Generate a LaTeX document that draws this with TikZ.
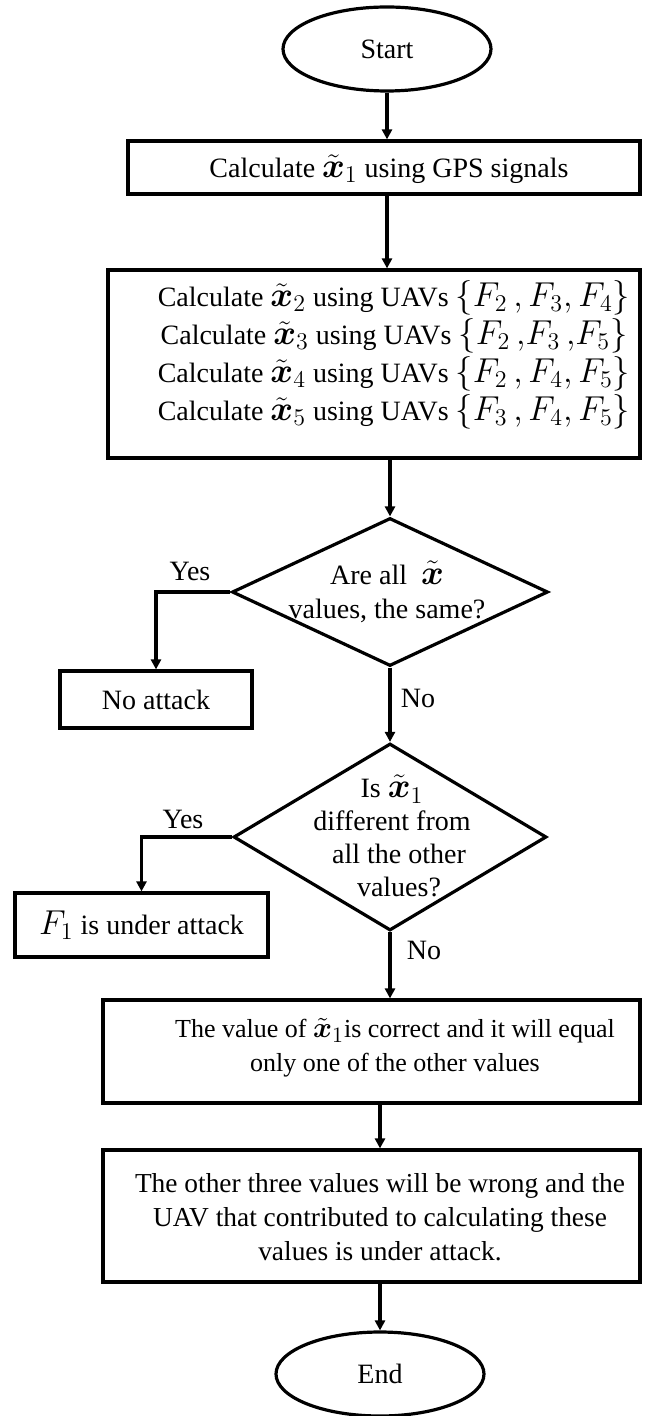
\documentclass[tikz,border=0pt]{standalone}
\usepackage{amsmath}
\usepackage{fontspec}
\setmainfont{Liberation Serif}
\DeclareMathSizes{14}{16.5}{12}{10}
\DeclareMathSizes{13}{15}{11}{9}
\usetikzlibrary{shapes.geometric,arrows.meta}
\newcommand{\xt}{\tilde{\boldsymbol{x}}}
\begin{document}
\begin{tikzpicture}[x=0.5pt,y=-0.5pt,
  every node/.style={font=\fontsize{14}{17}\selectfont},
  arrow/.style={line width=1.6pt,-{Triangle[length=5pt,width=5pt]}},
  terminal/.style={ellipse,draw,line width=1.6pt,inner sep=0pt,minimum width=104pt,minimum height=42pt},
  procbox/.style={rectangle,draw,line width=1.6pt,inner sep=0pt},
  decision/.style={diamond,draw,line width=1.6pt,inner sep=0pt},
  txt/.style={align=center,inner sep=0pt}]
\useasboundingbox (0,0) rectangle (656,1416);

% terminals
\node[terminal] (start) at (387,49) {Start};
\node[terminal] (end) at (380,1374) {End};

% process boxes
\node[procbox,minimum width=256pt,minimum height=26.5pt] (b1) at (384,167.5) {};
\node[txt] (b1t) at (389,169) {Calculate $\xt_1$ using GPS signals};

\node[procbox,minimum width=266pt,minimum height=94pt] (b2) at (374,364) {};
\node[txt,font=\fontsize{14}{19}\selectfont] (b2t) at (394,355) {%
  Calculate $\xt_2$ using UAVs $\{F_2\,, F_3, F_4\}$\\
  Calculate $\xt_3$ using UAVs\ $\{F_2\,,\!F_3\,,\!F_5\}$\\
  Calculate $\xt_4$ using UAVs\ $\{F_2\,, F_4, F_5\}$\\
  Calculate $\xt_5$ using UAVs\ $\{F_3\,, F_4, F_5\}$};

% first decision
\node[decision,minimum width=158pt,minimum height=74pt] (d1) at (390,592) {};
\node[txt] (d1t) at (387,592) {Are all\ \ $\xt$\\values, the same?};

\node[procbox,minimum width=96pt,minimum height=28.5pt] (na) at (156,699.5) {};
\node[txt] (nat) at (156,699.5) {No attack};

% second decision
\node[decision,minimum width=156.5pt,minimum height=93.5pt] (d2) at (390,837) {};
\node[txt,font=\fontsize{14}{16.5}\selectfont] (d2t) at (392,836) {Is $\xt_1$\\different from\\\ \ all the other\\\ \ values?};

\node[procbox,minimum width=126.5pt,minimum height=32pt] (f1) at (141.5,925) {};
\node[txt] (f1t) at (141.5,925) {$F_1$ is under attack};

% lower boxes
\node[procbox,minimum width=268.5pt,minimum height=51.5pt] (b3) at (371.5,1051.5) {};
\node[txt,font=\fontsize{13}{17}\selectfont] (b3t) at (395,1048) {The value of $\xt_1$is correct and it will equal\\only one of the other values};

\node[procbox,minimum width=268.5pt,minimum height=66pt] (b4) at (371.5,1216) {};
\node[txt,font=\fontsize{13.7}{17}\selectfont] (b4t) at (380,1217) {The other three values will be wrong and the\\UAV that contributed to calculating these\\values is under attack.};

% branch labels
\node[txt] (y1) at (190,571) {Yes};
\node[txt] (n1) at (418,698) {No};
\node[txt] (y2) at (183,819) {Yes};
\node[txt] (n2) at (424,950) {No};

% connectors
\draw[arrow] (start.south) -- (start.south |- b1.north);
\draw[arrow] (b1.south -| start.south) -- (b2.north -| start.south);
\draw[arrow] (b2.south -| d1.north) -- (d1.north);
\draw[arrow] (d1.west) -| (na.north);
\draw[arrow] (d1.south) -- (d2.north);
\draw[arrow] (d2.west) -| (f1.north);
\draw[arrow] (d2.south) -- (d2.south |- b3.north);
\draw[arrow] (b3.south -| end.north) -- (b4.north -| end.north);
\draw[arrow] (b4.south -| end.north) -- (end.north);
\end{tikzpicture}
\end{document}
